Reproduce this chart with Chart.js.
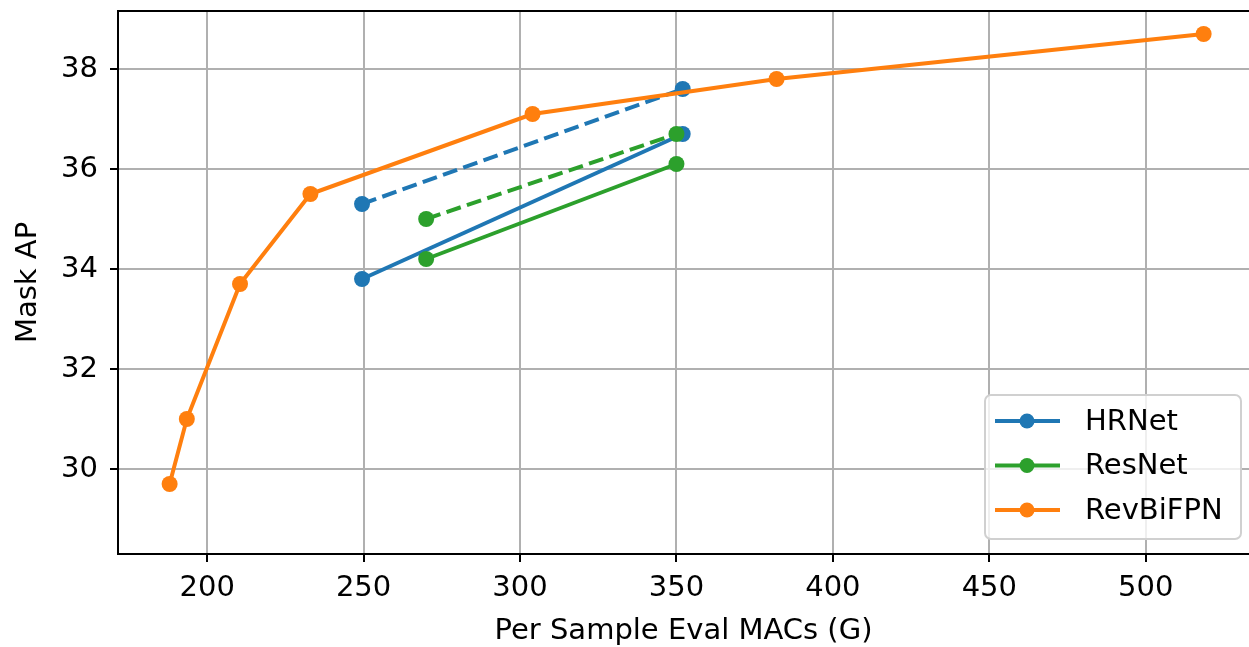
<!DOCTYPE html>
<html>
<head>
<meta charset="utf-8">
<script src="https://cdn.jsdelivr.net/npm/chart.js@4/dist/chart.umd.min.js"></script>
<style>
  html, body { margin: 0; padding: 0; background: #fff; }
  #wrap { width: 1249px; height: 647px; }
</style>
</head>
<body>
<div id="wrap"><canvas id="grafico"></canvas></div>
<script>
// dados
const seriesNames = ['HRNet', 'ResNet', 'RevBiFPN'];
const seriesColors = ['#1f77b4', '#2ca02c', '#ff7f0e'];

const hrX = [249.5, 352];
const hrY = [33.8, 36.7];
const hrDashY = [35.3, 37.6];

const resX = [270, 350];
const resY = [34.2, 36.1];
const resDashY = [35.0, 36.7];

const revX = [188, 193.5, 210.5, 233, 304, 382, 518.5];
const revY = [29.7, 31.0, 33.7, 35.5, 37.1, 37.8, 38.7];

const xTicks = [200, 250, 300, 350, 400, 450, 500];
const yTicks = [30, 32, 34, 36, 38];

const fonte = 'DejaVu Sans';

// junta x e y em pontos
function pontos(xs, ys) {
  return xs.map((x, i) => ({ x: x, y: ys[i] }));
}

function serie(label, xs, ys, cor, tracejado, ordem) {
  return {
    label: label,
    data: pontos(xs, ys),
    showLine: true,
    borderColor: cor,
    backgroundColor: cor,
    borderWidth: 4,
    borderDash: tracejado ? [15, 6.5] : [],
    pointRadius: 8,
    pointHoverRadius: 8,
    pointBorderWidth: 0,
    order: ordem
  };
}

// tira o espaço extra que o Chart.js reserva para os rótulos
function semPadding(scale) {
  scale.paddingTop = 0;
  scale.paddingBottom = 0;
  scale.paddingLeft = 0;
  scale.paddingRight = 0;
}

// legenda dentro da área do gráfico (canto inferior direito)
const legendaInterna = {
  id: 'legendaInterna',
  // estica a área do gráfico até a borda direita do canvas
  afterLayout(chart) {
    const area = chart.chartArea;
    const fim = chart.width;
    area.right = fim;
    area.width = fim - area.left;
    const x = chart.scales.x;
    x.right = fim;
    x.width = fim - x.left;
    x.configure();
  },
  afterDraw(chart) {
    const ctx = chart.ctx;
    const area = chart.chartArea;

    // borda superior (eixo de cima)
    ctx.save();
    ctx.strokeStyle = '#000';
    ctx.lineWidth = 2;
    ctx.beginPath();
    ctx.moveTo(area.left, area.top);
    ctx.lineTo(area.right, area.top);
    ctx.stroke();

    const x0 = 985, y0 = 395, w = 256, h = 144;
    ctx.beginPath();
    ctx.roundRect(x0, y0, w, h, 6);
    ctx.fillStyle = 'rgba(255,255,255,0.8)';
    ctx.fill();
    ctx.strokeStyle = '#d0d0d0';
    ctx.lineWidth = 2;
    ctx.stroke();

    ctx.font = '29px "' + fonte + '"';
    ctx.textBaseline = 'middle';
    ctx.textAlign = 'left';
    seriesNames.forEach((nome, i) => {
      const y = 421 + i * 44.5;
      ctx.strokeStyle = seriesColors[i];
      ctx.lineWidth = 4;
      ctx.beginPath();
      ctx.moveTo(995, y);
      ctx.lineTo(1060, y);
      ctx.stroke();
      ctx.fillStyle = seriesColors[i];
      ctx.beginPath();
      ctx.arc(1027, y, 7.5, 0, Math.PI * 2);
      ctx.fill();
      ctx.fillStyle = '#000';
      ctx.fillText(nome, 1085, y + 1);
    });
    ctx.restore();
  }
};

const ctx = document.getElementById('grafico').getContext('2d');
const grafico = new Chart(ctx, {
  type: 'scatter',
  data: {
    datasets: [
      serie('HRNet', hrX, hrY, seriesColors[0], false, 5),
      serie('HRNet (dashed)', hrX, hrDashY, seriesColors[0], true, 4),
      serie('ResNet', resX, resY, seriesColors[1], false, 3),
      serie('ResNet (dashed)', resX, resDashY, seriesColors[1], true, 2),
      serie('RevBiFPN', revX, revY, seriesColors[2], false, 1)
    ]
  },
  options: {
    responsive: true,
    maintainAspectRatio: false,
    animation: false,
    layout: { padding: { top: 11, right: 0, bottom: 0, left: 0 } },
    plugins: {
      legend: { display: false },
      tooltip: { enabled: false }
    },
    scales: {
      x: {
        type: 'linear',
        min: 171.5,
        max: 533,
        afterFit(scale) { scale.height = 93; semPadding(scale); },
        afterBuildTicks(scale) { scale.ticks = xTicks.map(v => ({ value: v })); },
        ticks: {
          color: '#000',
          padding: 9,
          maxRotation: 0,
          font: { family: fonte, size: 29 }
        },
        grid: { color: '#b0b0b0', lineWidth: 2, tickLength: 8, tickColor: '#000', tickWidth: 2 },
        border: { color: '#000', width: 2 },
        title: {
          display: true,
          text: 'Per Sample Eval MACs (G)',
          color: '#000',
          font: { family: fonte, size: 29 },
          padding: { top: 0, bottom: -2 }
        }
      },
      y: {
        type: 'linear',
        min: 28.3,
        max: 39.16,
        afterFit(scale) { scale.width = 118; semPadding(scale); },
        afterBuildTicks(scale) { scale.ticks = yTicks.map(v => ({ value: v })); },
        ticks: {
          color: '#000',
          padding: 12,
          font: { family: fonte, size: 29 }
        },
        grid: { color: '#b0b0b0', lineWidth: 2, tickLength: 8, tickColor: '#000', tickWidth: 2 },
        border: { color: '#000', width: 2 },
        title: {
          display: true,
          text: 'Mask AP',
          color: '#000',
          font: { family: fonte, size: 29 },
          padding: { top: 11, bottom: 0 }
        }
      }
    }
  },
  plugins: [legendaInterna]
});
</script>
</body>
</html>
